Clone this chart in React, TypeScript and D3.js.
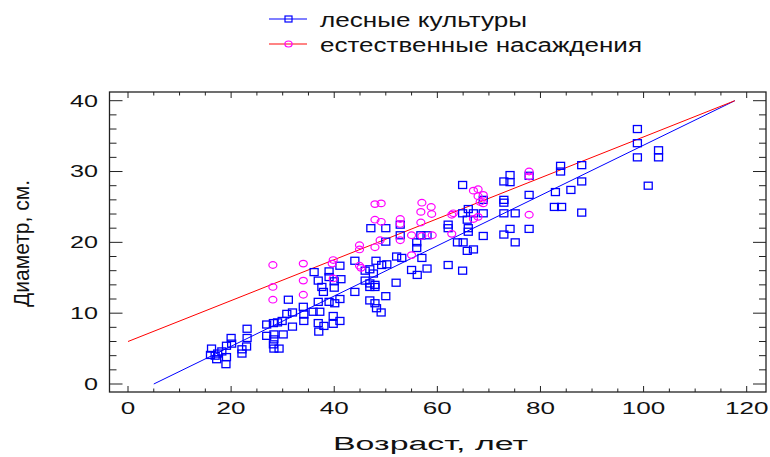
import React from 'react';
import { scaleLinear, line } from 'd3';

const width = 770;
const height = 457;

// лесные культуры (blue squares): [возраст, диаметр]
const plantations: [number, number][] = [
  [16.2, 5.0], [16.0, 4.1], [16.9, 4.0], [17.4, 4.3], [17.2, 3.5], [18.2, 4.6], [19.1, 3.8], [19.0, 2.8],
  [19.1, 5.4], [20.0, 6.5], [20.1, 5.7], [22.1, 4.9], [22.1, 4.3], [23.0, 5.3], [23.1, 6.5], [23.1, 7.8],
  [26.9, 8.4], [26.9, 6.8], [28.2, 8.6], [28.3, 7.0], [28.3, 6.3], [28.2, 5.6], [28.3, 5.0], [29.3, 5.0],
  [29.0, 8.7], [29.9, 8.9], [30.1, 7.0], [30.8, 9.9], [31.9, 10.1], [31.9, 8.1], [31.1, 11.9], [34.0, 10.9],
  [34.1, 9.8], [34.1, 8.9], [35.9, 10.2], [37.2, 10.2], [36.9, 8.6], [37.0, 7.4], [36.1, 15.8], [36.9, 14.6],
  [37.6, 13.7], [37.9, 13.0], [36.9, 11.6], [39.0, 15.9], [39.0, 15.1], [40.0, 14.5], [40.0, 13.6], [38.0, 8.2],
  [47.1, 22.0], [50.0, 22.0], [52.8, 21.0], [56.8, 21.0], [58.0, 21.0], [50.0, 20.1], [56.0, 19.2], [56.0, 20.0],
  [52.1, 18.0], [53.1, 17.8], [57.0, 17.8], [44.0, 17.4], [48.1, 17.4], [41.1, 16.7], [49.2, 16.8], [50.2, 16.9],
  [46.9, 16.2], [46.0, 16.0], [47.6, 15.6], [55.0, 16.1], [56.1, 15.4], [58.0, 16.3], [41.3, 14.8], [46.0, 14.6],
  [46.9, 14.2], [47.9, 14.0], [46.9, 13.7], [47.9, 13.7], [52.0, 14.3], [44.0, 13.0], [50.0, 12.4], [39.0, 11.6],
  [40.1, 11.4], [41.1, 12.0], [46.9, 11.8], [47.9, 11.4], [48.2, 10.7], [49.1, 10.1], [39.8, 9.6], [41.1, 8.9],
  [39.8, 8.5], [52.8, 22.5],
  [64.9, 28.1], [74.1, 29.5], [72.9, 28.6], [74.1, 28.5], [77.8, 29.4], [68.9, 26.0], [72.9, 26.0], [72.9, 25.6],
  [77.8, 26.7], [64.9, 24.1], [66.0, 24.7], [65.8, 23.2], [67.0, 24.1], [68.9, 24.1], [72.9, 24.1], [75.1, 24.1],
  [62.1, 22.5], [62.1, 22.0], [66.0, 22.0], [66.0, 21.5], [74.1, 21.9], [77.8, 21.9], [68.9, 20.9], [72.9, 21.1],
  [75.1, 20.0], [63.9, 20.0], [65.0, 20.0], [65.8, 18.8], [67.0, 19.0], [62.1, 16.8], [64.9, 16.0],
  [98.8, 36.0], [98.8, 34.0], [98.8, 32.0], [102.9, 33.0], [102.9, 32.0], [100.9, 28.0], [83.9, 30.8], [83.9, 30.0],
  [88.0, 30.9], [88.0, 28.6], [85.9, 27.4], [82.9, 27.1], [82.7, 25.0], [84.1, 25.0], [88.0, 24.2],
];

// естественные насаждения (magenta circles)
const natural: [number, number][] = [
  [28.1, 16.8], [34.0, 17.0], [28.1, 13.7], [34.0, 14.6], [28.1, 11.9], [34.0, 12.6],
  [39.8, 17.5], [39.6, 17.0], [39.8, 14.9],
  [44.9, 19.6], [44.9, 19.0], [44.9, 16.7], [45.2, 16.4],
  [47.9, 25.4], [49.1, 25.5], [47.9, 23.2], [49.1, 22.9], [48.9, 20.3], [47.9, 19.3],
  [52.8, 23.3], [52.8, 22.6], [52.8, 20.3], [55.0, 21.0], [55.0, 18.2],
  [57.0, 25.6], [56.8, 24.3], [58.8, 25.0], [58.9, 24.0], [56.8, 22.8], [57.0, 20.9], [59.0, 21.0],
  [62.8, 23.9], [63.1, 24.1], [62.8, 21.2],
  [67.0, 27.3], [67.9, 27.5], [68.9, 26.7], [67.9, 26.5], [68.3, 25.7], [68.9, 25.5], [67.9, 23.6], [67.0, 23.3],
  [77.8, 30.0], [77.8, 29.3], [77.8, 23.9],
];

// regression lines (endpoints)
const plantationsFit: [number, number][] = [[5, 0], [117.7, 40]];
const naturalFit: [number, number][] = [[0, 6], [117.7, 40]];

const xTickLabels = [0, 20, 40, 60, 80, 100, 120];
const yTickLabels = [0, 10, 20, 30, 40];

const seriesNames = ['лесные культуры', 'естественные насаждения'];

const font = '"Liberation Sans", Arial, sans-serif';
const frame = { left: 109.5, right: 766, top: 92, bottom: 392 };

const App = () => {
  const x = scaleLinear().domain([0, 120]).range([128, 746.7]);
  const y = scaleLinear().domain([0, 40]).range([384, 100.7]);
  const path = line<[number, number]>()
    .x((d) => x(d[0]))
    .y((d) => y(d[1]));

  const xMinor = x.ticks(24);
  const yMinor = y.ticks(20);
  const ink = '#222';

  return (
    <svg width={width} height={height} style={{ position: 'absolute', left: 0, top: 0, background: '#fff' }}>
      {/* legend */}
      <line x1={269} x2={307} y1={19} y2={19} stroke="#0000ff" strokeWidth={1.2} />
      <rect x={285} y={16} width={7} height={6} fill="none" stroke="#0000ff" strokeWidth={1.2} />
      <text x={320} y={26.5} fontFamily={font} fontSize={20} textLength={207} lengthAdjust="spacingAndGlyphs" fill="#111">
        {seriesNames[0]}
      </text>
      <line x1={269} x2={307} y1={44} y2={44} stroke="#ff5a5a" strokeWidth={1.4} />
      <ellipse cx={288.5} cy={44} rx={3.6} ry={3} fill="none" stroke="#ff00ff" strokeWidth={1.2} />
      <text x={320} y={51.5} fontFamily={font} fontSize={20} textLength={322} lengthAdjust="spacingAndGlyphs" fill="#111">
        {seriesNames[1]}
      </text>

      {/* frame */}
      <rect x={frame.left} y={frame.top} width={frame.right - frame.left} height={frame.bottom - frame.top}
        fill="none" stroke={ink} strokeWidth={1.3} />

      {/* x ticks top and bottom */}
      {xMinor.map((t) => {
        const major = t % 20 === 0;
        const len = major ? 6 : 3.5;
        return (
          <g key={'xt' + t} stroke={ink} strokeWidth={1}>
            <line x1={x(t)} x2={x(t)} y1={frame.bottom} y2={frame.bottom - len} />
            <line x1={x(t)} x2={x(t)} y1={frame.top} y2={frame.top + len} />
          </g>
        );
      })}
      {/* y ticks left and right */}
      {yMinor.map((t) => {
        const major = t % 10 === 0;
        const len = major ? 13 : 7;
        return (
          <g key={'yt' + t} stroke={ink} strokeWidth={1}>
            <line x1={frame.left} x2={frame.left + len} y1={y(t)} y2={y(t)} />
            <line x1={frame.right} x2={frame.right - len} y1={y(t)} y2={y(t)} />
          </g>
        );
      })}

      {/* tick labels */}
      {xTickLabels.map((t) => (
        <text key={'xl' + t} x={x(t)} y={413.5} textAnchor="middle" fontFamily={font} fontSize={16.3}
          textLength={String(t).length * 14.5} lengthAdjust="spacingAndGlyphs" fill="#111">
          {t}
        </text>
      ))}
      {yTickLabels.map((t) => (
        <text key={'yl' + t} x={98 - String(t).length * 14} y={y(t) + 5.9} fontFamily={font} fontSize={16.3}
          textLength={String(t).length * 14} lengthAdjust="spacingAndGlyphs" fill="#111">
          {t}
        </text>
      ))}

      {/* axis titles */}
      <text x={333} y={450} fontFamily={font} fontSize={18} textLength={195} lengthAdjust="spacingAndGlyphs" fill="#111">
        Возраст, лет
      </text>
      <text transform="translate(29,243.5) scale(1.25,1) rotate(-90)" textAnchor="middle" fontFamily={font}
        fontSize={18} textLength={127} lengthAdjust="spacingAndGlyphs" fill="#111">
        Диаметр, см.
      </text>

      {/* regression lines */}
      <path d={path(plantationsFit) || ''} fill="none" stroke="#0000ff" strokeWidth={1} />
      <path d={path(naturalFit) || ''} fill="none" stroke="#ff0000" strokeWidth={1} />

      {/* points */}
      {plantations.map((d, i) => (
        <rect key={'p' + i} x={x(d[0]) - 4} y={y(d[1]) - 3.5} width={8} height={7}
          fill="none" stroke="#0000ff" strokeWidth={1.3} />
      ))}
      {natural.map((d, i) => (
        <ellipse key={'n' + i} cx={x(d[0])} cy={y(d[1])} rx={4} ry={3.3}
          fill="none" stroke="#ff00ff" strokeWidth={1.2} />
      ))}
    </svg>
  );
};

export default App;
